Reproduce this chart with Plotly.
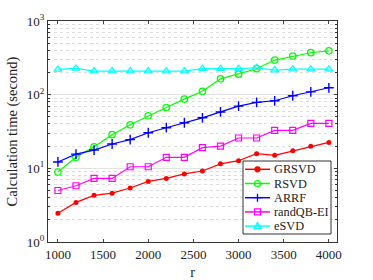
import plotly.graph_objects as go

r = [1000, 1200, 1400, 1600, 1800, 2000, 2200, 2400, 2600, 2800, 3000, 3200, 3400, 3600, 3800, 4000]
grsvd = [2.45, 3.45, 4.3, 4.6, 5.4, 6.65, 7.3, 8.4, 9.2, 11.5, 12.7, 15.8, 15.0, 17.3, 19.9, 22.5]
rsvd = [8.9, 14.1, 19.6, 28.6, 39, 51.7, 67, 87, 111, 164, 190, 225, 295, 334, 371, 394]
arrf = [12.2, 15.6, 17.7, 21.4, 24.5, 30.4, 35.6, 41.6, 48.5, 58.3, 70, 78.5, 82.6, 96.6, 109, 124]
randqb = [5.0, 5.8, 7.3, 7.3, 10.5, 10.5, 14.1, 14.1, 19.1, 20.0, 25.8, 25.8, 32.8, 32.8, 40.8, 40.8]
esvd = [220, 227, 209, 209, 209, 209, 209, 209, 225, 225, 225, 232, 216, 222, 222, 222]
names = ["GRSVD", "RSVD", "ARRF", "randQB-EI", "eSVD"]

RED, GREEN, BLUE, MAG, CYAN = "#ff0000", "#00ff00", "#0000ff", "#ff00ff", "#00ffff"
series = [
    (names[0], grsvd, RED, dict(symbol="circle", size=5, color=RED)),
    (names[1], rsvd, GREEN, dict(symbol="circle-open", size=6.5, color=GREEN, line=dict(width=1.2))),
    (names[2], arrf, BLUE, dict(symbol="cross-thin-open", size=7, color=BLUE, line=dict(width=1.4, color=BLUE))),
    (names[3], randqb, MAG, dict(symbol="square-open", size=6, color=MAG, line=dict(width=1.2))),
    (names[4], esvd, CYAN, dict(symbol="triangle-up-open", size=7, color=CYAN, line=dict(width=1.2))),
]

fig = go.Figure()
for name, vals, col, mk in series:
    fig.add_trace(go.Scatter(x=r, y=vals, name=name, mode="lines+markers", showlegend=False,
                             line=dict(color=col, width=1.2), marker=mk))

font = "Times New Roman, Liberation Serif, serif"
W, H = 373, 280
L, R_, T, B = 48, 36, 21, 38
PW, PH = W - L - R_, H - T - B


def px(xp):
    return (xp - L) / PW


def py(yp):
    return (H - B - yp) / PH


# custom compact legend (paper coordinates)
shapes = [dict(type="rect", xref="paper", yref="paper", x0=px(243), x1=px(331), y0=py(234), y1=py(161),
               line=dict(color="#333", width=1), fillcolor="white", layer="above")]
annots = []
marker_paths = {
    "cross": "M -4,0 L 4,0 M 0,-4 L 0,4",
    "square": "M -3,-3 L 3,-3 L 3,3 L -3,3 Z",
    "triangle": "M -3.5,-2.5 L 3.5,-2.5 L 0,3.5 Z",
}
kinds = ["circle", "circle-open", "cross", "square", "triangle"]
for i, (name, vals, col, mk) in enumerate(series):
    yc = 169.3 + i * 14.2
    shapes.append(dict(type="line", xref="paper", yref="paper", x0=px(245), x1=px(270), y0=py(yc), y1=py(yc),
                       line=dict(color=col, width=1.5), layer="above"))
    k = kinds[i]
    if k in ("circle", "circle-open"):
        rr = 2.5 if k == "circle" else 3
        shapes.append(dict(type="circle", xref="paper", yref="paper", xsizemode="pixel", ysizemode="pixel",
                           xanchor=px(257.5), yanchor=py(yc), x0=-rr, x1=rr, y0=-rr, y1=rr,
                           line=dict(color=col, width=1.2),
                           fillcolor=col if k == "circle" else "rgba(0,0,0,0)", layer="above"))
    else:
        shapes.append(dict(type="path", xref="paper", yref="paper", xsizemode="pixel", ysizemode="pixel",
                           xanchor=px(257.5), yanchor=py(yc), path=marker_paths[k],
                           line=dict(color=col, width=1.3), fillcolor="rgba(0,0,0,0)", layer="above"))
    annots.append(dict(text=name, xref="paper", yref="paper", x=px(271.5), y=py(yc), xanchor="left",
                       yanchor="middle", showarrow=False, font=dict(family=font, size=12.3, color="#222")))

fig.update_layout(
    width=W, height=H,
    margin=dict(l=L, r=R_, t=T, b=B, autoexpand=False),
    paper_bgcolor="white", plot_bgcolor="white",
    font=dict(family=font, size=13, color="#222"),
    showlegend=False,
    shapes=shapes, annotations=annots,
    xaxis=dict(range=[890, 4090], tickvals=[1000, 1500, 2000, 2500, 3000, 3500, 4000],
               ticks="inside", ticklen=3, mirror="ticks", showline=True, linecolor="#333",
               linewidth=1, showgrid=False, zeroline=False, automargin=False,
               title=dict(text="r", standoff=6, font=dict(family=font, size=14)),
               tickfont=dict(family=font, size=13)),
    yaxis=dict(type="log", range=[0, 3], tickvals=[1, 10, 100, 1000],
               ticktext=["10<sup>0</sup>", "10<sup>1</sup>", "10<sup>2</sup>", "10<sup>3</sup>"],
               ticks="inside", ticklen=3, mirror="ticks", showline=True, linecolor="#333",
               linewidth=1, showgrid=True, gridcolor="#e3e3e3", gridwidth=1, zeroline=False,
               automargin=False,
               minor=dict(ticks="inside", ticklen=2, showgrid=True, gridcolor="#dcdcdc",
                          griddash="dot", dtick="D1", tickcolor="#333"),
               title=dict(text="Calculation time (second)", standoff=5, font=dict(family=font, size=14.5)),
               tickfont=dict(family=font, size=13)),
)
fig.write_html("out.html", config={"displayModeBar": False},
               post_script="document.body.style.margin='0';document.body.style.overflow='hidden';")
